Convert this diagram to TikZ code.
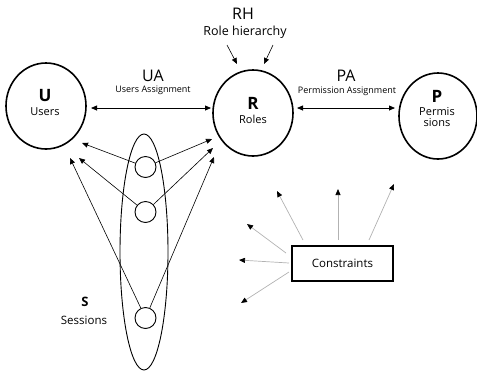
\documentclass[tikz,border=0pt]{standalone}
\usepackage{fontspec}
\setmainfont{Open Sans}
\usetikzlibrary{shapes.geometric,arrows.meta}
\begin{document}
\begin{tikzpicture}[x=1pt,y=-1pt,
  bigc/.style={draw,ellipse,line width=1.6pt,minimum width=80pt,minimum height=86pt,inner sep=0pt},
  smallc/.style={draw,circle,line width=0.9pt,minimum size=21pt,inner sep=0pt},
  arr/.style={-{Triangle[length=6pt,width=5pt]},line width=0.6pt},
  darr/.style={{Triangle[length=6pt,width=5pt]}-{Triangle[length=6pt,width=5pt]},line width=0.8pt},
  carr/.style={-{Triangle[length=6pt,width=5pt,color=black]},draw=gray!60,line width=0.7pt},
  lbl/.style={inner sep=0pt,font=\fontsize{16}{16}\selectfont},
  sub/.style={inner sep=0pt,font=\fontsize{9}{9}\selectfont},
  big/.style={inner sep=0pt,font=\fontsize{17}{17}\selectfont\bfseries},
  small/.style={inner sep=0pt,font=\fontsize{11}{11}\selectfont},
]
\useasboundingbox (0,0) rectangle (477,373);
% big circles
\node[bigc] (U) at (46,106) {};
\node[bigc] (R) at (253,113) {};
\node[bigc,minimum width=78pt] (P) at (438,116) {};
\node[big] (Ut) at (45,96) {U};
\node[small] (Us) at (45,112) {Users};
\node[big] (Rt) at (253,103) {R};
\node[small] (Rs) at (253,119) {Roles};
\node[big] (Pt) at (437,96) {P};
\node[small] (Ps1) at (437,112) {Permis};
\node[small] (Ps2) at (437,123) {sions};
% UA
\node[lbl] (UA) at (153,76) {UA};
\node[sub] (UAs) at (153,90) {Users Assignment};
\coordinate (ua1) at (91,108);
\coordinate (ua2) at (211,108);
\draw[darr] (ua1) -- (ua2);
% PA
\node[lbl] (PA) at (346,76) {PA};
\node[sub] (PAs) at (347,91) {Permission Assignment};
\coordinate (pa1) at (297,108);
\coordinate (pa2) at (395,108);
\draw[darr] (pa1) -- (pa2);
% RH
\node[lbl] (RH) at (243,14) {RH};
\node[inner sep=0pt,font=\fontsize{12.5}{12.5}\selectfont] (RHs) at (245,32) {Role hierarchy};
\coordinate (rh1) at (227,45);
\coordinate (rh1e) at (237,64);
\coordinate (rh2) at (273,45);
\coordinate (rh2e) at (264,64);
\draw[arr] (rh1) -- (rh1e);
\draw[arr] (rh2) -- (rh2e);
% sessions
\node[draw,ellipse,line width=0.9pt,minimum width=48pt,minimum height=236pt,inner sep=0pt] (S) at (144,252) {};
\node[smallc] (s1) at (145.5,167) {};
\node[smallc] (s2) at (145.5,212) {};
\node[smallc] (s3) at (145.5,318) {};
\node[inner sep=0pt,font=\fontsize{13}{13}\selectfont\bfseries] (St) at (85,302) {S};
\node[inner sep=0pt,font=\fontsize{11.5}{11.5}\selectfont] (Ss) at (84,320) {Sessions};
\coordinate (u1) at (82,143);
\coordinate (u2) at (79,158);
\coordinate (u3) at (70,158);
\coordinate (r1) at (212,139);
\coordinate (r2) at (213,148);
\coordinate (r3) at (214,157);
\draw[arr] (s1) -- (u1);
\draw[arr] (s2) -- (u2);
\draw[arr] (s3) -- (u3);
\draw[arr] (s1) -- (r1);
\draw[arr] (s2) -- (r2);
\draw[arr] (s3) -- (r3);
% constraints
\node[draw,line width=1.3pt,minimum width=101pt,minimum height=35pt,inner sep=0pt,font=\fontsize{11.5}{11.5}\selectfont] (C) at (342.5,263.5) {Constraints};
\coordinate (c1s) at (303,240);
\coordinate (c1) at (277,191);
\coordinate (c2s) at (338,240);
\coordinate (c2) at (338,189);
\coordinate (c3s) at (369,240);
\coordinate (c3) at (394,184);
\coordinate (c4s) at (286,253);
\coordinate (c4) at (247,224);
\coordinate (c5s) at (289,263);
\coordinate (c5) at (239,260);
\coordinate (c6s) at (289,272);
\coordinate (c6) at (241,303);
\draw[carr] (c1s) -- (c1);
\draw[carr] (c2s) -- (c2);
\draw[carr] (c3s) -- (c3);
\draw[carr] (c4s) -- (c4);
\draw[carr] (c5s) -- (c5);
\draw[carr] (c6s) -- (c6);
\end{tikzpicture}
\end{document}
